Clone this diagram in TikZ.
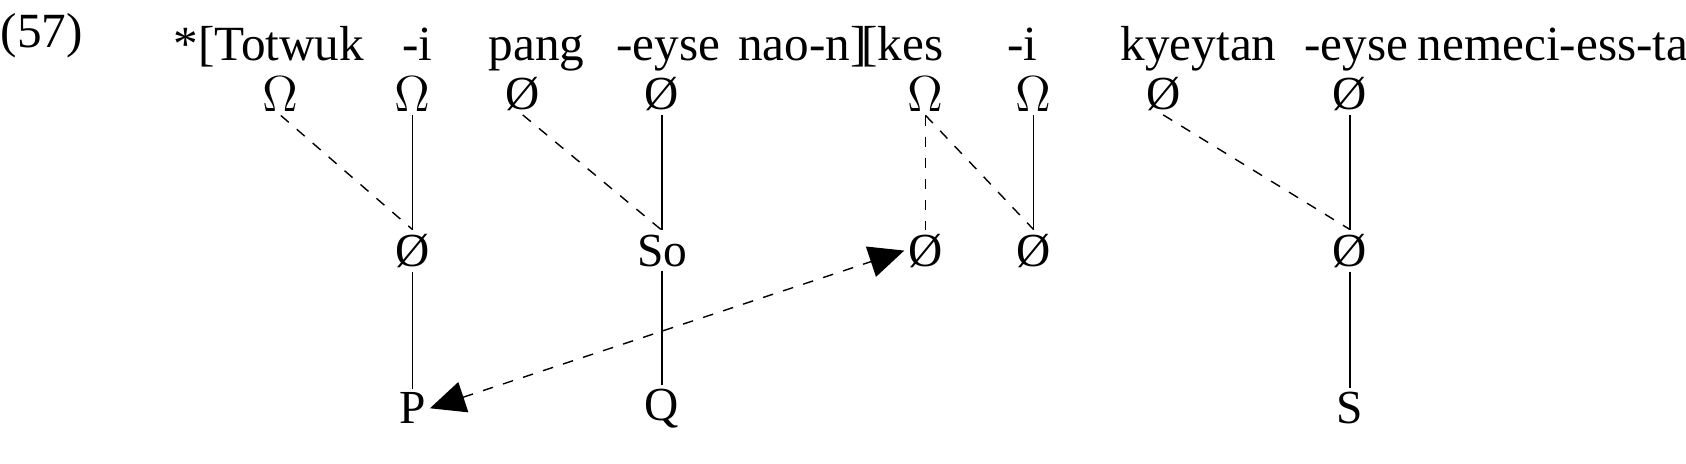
\documentclass[tikz,border=0pt]{standalone}
\usepackage{fontspec}
\setmainfont{Liberation Serif}
\usetikzlibrary{arrows.meta}
\tikzset{
  lab/.style={inner sep=1pt, font=\fontsize{13.5}{15}\selectfont},
  wd/.style={anchor=base west, inner sep=0pt, font=\fontsize{14}{16}\selectfont},
  assoc/.style={thin},
  weak/.style={thin, dashed},
}
\begin{document}
\begin{tikzpicture}[x=0.0108cm,y=-0.0108cm]
\useasboundingbox (0,0) rectangle (1561,429);
\clip (0,0) rectangle (1561,429);
% example line
\node[wd] (num) at (0,44) {(57)};
\node[wd] (w1) at (160,56) {*[Totwuk};
\node[wd] (w2) at (372,56) {-i};
\node[wd] (w3) at (452,56) {pang};
\node[wd] (w4) at (570,56) {-eyse};
\node[wd] (w5) at (683,56) {nao-n]};
\node[wd] (w6) at (797,56) {[kes};
\node[wd] (w7) at (932,56) {-i};
\node[wd] (w8) at (1037,56) {kyeytan};
\node[wd] (w9) at (1207,56) {-eyse};
\node[wd] (w10) at (1312,56) {nemeci-ess-ta};
% tier 1
\node[lab] (a1) at (260,87) {$\Omega$};
\node[lab] (a2) at (382,87) {$\Omega$};
\node[lab] (a3) at (484,87) {Ø};
\node[lab] (a4) at (613,87) {Ø};
\node[lab] (a5) at (857,87) {$\Omega$};
\node[lab] (a6) at (957,87) {$\Omega$};
\node[lab] (a7) at (1077,87) {Ø};
\node[lab] (a8) at (1250,87) {Ø};
% tier 2
\node[lab] (b1) at (382,232) {Ø};
\node[lab] (b2) at (613,232) {So};
\node[lab] (b3) at (857,232) {Ø};
\node[lab] (b4) at (957,232) {Ø};
\node[lab] (b5) at (1250,232) {Ø};
% tier 3
\node[lab] (c1) at (382,378) {P};
\node[lab] (c2) at (613,378) {Q};
\node[lab] (c3) at (1250,378) {S};
% links
\draw[weak] (a1.south) -- (b1.north);
\draw[assoc] (a2) -- (b1);
\draw[weak] (a3.south) -- (b2.north);
\draw[assoc] (a4) -- (b2);
\draw[weak] (a5) -- (b3);
\draw[weak] (a5.south) -- (b4.north);
\draw[assoc] (a6) -- (b4);
\draw[weak] (a7.south) -- (b5.north);
\draw[assoc] (a8) -- (b5);
\draw[assoc] (b1) -- (c1);
\draw[assoc] (b2) -- (c2);
\draw[assoc] (b5) -- (c3);
\draw[weak, {Triangle[length=10pt,width=9pt]}-{Triangle[length=10pt,width=9pt]}] (c1.east) -- (b3.west);
\end{tikzpicture}
\end{document}
